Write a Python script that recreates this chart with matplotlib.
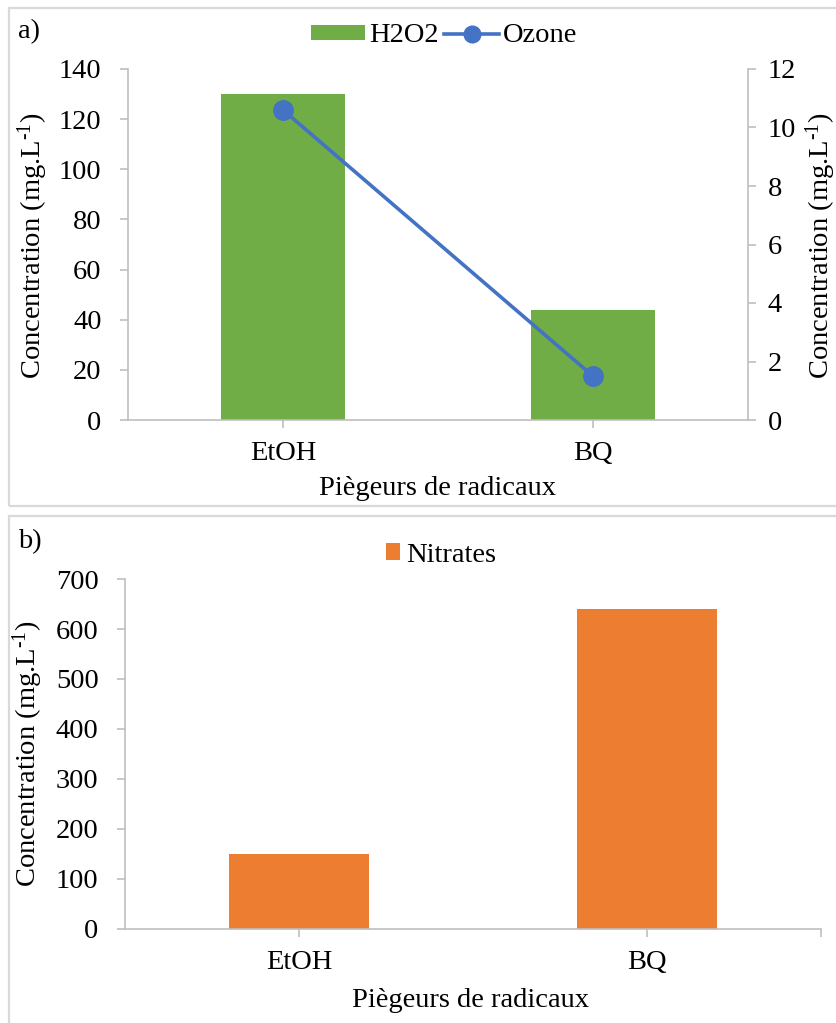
import matplotlib
matplotlib.use("Agg")
import matplotlib.pyplot as plt
from matplotlib.patches import Rectangle, Patch
from matplotlib.lines import Line2D

categories = ["EtOH", "BQ"]
h2o2 = [130, 44]
ozone = [10.6, 1.5]
nitrates = [150, 640]

left_ticks_a = [0, 20, 40, 60, 80, 100, 120, 140]
right_ticks_a = [0, 2, 4, 6, 8, 10, 12]
ticks_b = [0, 100, 200, 300, 400, 500, 600, 700]

ylabel = "Concentration (mg.L$^{\\text{-1}}$)"
xlabel = "Pi\u00e8geurs de radicaux"

GREEN = "#70AD47"
BLUE = "#4472C4"
ORANGE = "#ED7D31"
AXC = "#BFBFBF"
FS = 20.5

plt.rcParams["font.family"] = ["Liberation Serif", "DejaVu Serif"]
plt.rcParams["mathtext.fontset"] = "custom"
plt.rcParams["mathtext.rm"] = "Liberation Serif"
plt.rcParams["mathtext.it"] = "Liberation Serif"

W, H = 837, 1023
fig = plt.figure(figsize=(W / 100, H / 100), dpi=100)

def fx(px):
    return px / W

def fy(py):
    return 1 - py / H

# panel frames
fig.patches.append(Rectangle((fx(9), fy(506)), fx(840) - fx(9), fy(8) - fy(506),
                             transform=fig.transFigure, fill=False, ec="#D9D9D9", lw=1.6))
fig.patches.append(Rectangle((fx(9), fy(1030)), fx(840) - fx(9), fy(516) - fy(1030),
                             transform=fig.transFigure, fill=False, ec="#D9D9D9", lw=1.6))

def style(ax, right=False):
    ax.spines["top"].set_visible(False)
    ax.spines["right"].set_visible(right)
    for s in ["left", "bottom", "right"]:
        ax.spines[s].set_color(AXC)
        ax.spines[s].set_linewidth(1.2)
    ax.tick_params(axis="both", colors=AXC, labelcolor="black", labelsize=FS,
                   length=6, width=1.2)

x = list(range(len(categories)))

# ---- panel a
axa = fig.add_axes([fx(128), fy(420), fx(748) - fx(128), fy(69) - fy(420)])
axa.bar(x, h2o2, width=0.4, color=GREEN, zorder=2)
axa.set_xlim(-0.5, 1.5)
axa.set_ylim(0, 140)
axa.set_yticks(left_ticks_a)
axa.set_xticks(x)
axa.set_xticklabels(categories)
style(axa, right=False)
axa.tick_params(axis="y", pad=13)
axa.tick_params(axis="x", pad=9)
axa.set_ylabel(ylabel, fontsize=FS)
axa.yaxis.set_label_coords(-0.126, 0.496)
axa.set_xlabel(xlabel, fontsize=FS)
axa.xaxis.set_label_coords(0.50, -0.16)

axr = axa.twinx()
axr.plot(x, ozone, color=BLUE, lw=2.6, marker="o", ms=14, zorder=3)
axr.set_ylim(0, 12)
axr.set_yticks(right_ticks_a)
axr.spines["top"].set_visible(False)
axr.spines["left"].set_visible(False)
axr.spines["bottom"].set_visible(False)
axr.spines["right"].set_color(AXC)
axr.spines["right"].set_linewidth(1.2)
axr.tick_params(axis="y", colors=AXC, labelcolor="black", labelsize=FS,
                length=6, width=1.2, pad=8)
axr.set_ylabel(ylabel, fontsize=FS, rotation=90)
axr.yaxis.set_label_coords(1.090, 0.496)

handles_a = [Patch(facecolor=GREEN, edgecolor="none", label="H2O2"),
             Line2D([0], [0], color=BLUE, lw=2.6, marker="o", ms=12, label="Ozone")]
fig.legend(handles=handles_a, loc="center", bbox_to_anchor=(fx(444), fy(36)), ncol=2,
           frameon=False, fontsize=FS, handlelength=1.9, handleheight=0.45,
           handletextpad=0.15, columnspacing=0.2, borderaxespad=0)

fig.text(fx(18), fy(32), "a)", fontsize=FS, va="center", ha="left")

# ---- panel b
axb = fig.add_axes([fx(125), fy(929), fx(821) - fx(125), fy(579) - fy(929)])
axb.bar(x, nitrates, width=0.4, color=ORANGE, zorder=2)
axb.set_xlim(-0.5, 1.5)
axb.set_ylim(0, 700)
axb.set_yticks(ticks_b)
axb.set_xticks(x)
axb.set_xticklabels(categories)
axb.set_xticks([1.5], minor=True)
style(axb)
axb.tick_params(axis="x", which="minor", colors=AXC, length=6, width=1.2)
axb.tick_params(axis="y", pad=13)
axb.tick_params(axis="x", pad=9)
axb.set_ylabel(ylabel, fontsize=FS)
axb.yaxis.set_label_coords(-0.115, 0.5)
axb.set_xlabel(xlabel, fontsize=FS)
axb.xaxis.set_label_coords(0.496, -0.168)

handles_b = [Patch(facecolor=ORANGE, edgecolor="none", label="Nitrates")]
fig.legend(handles=handles_b, loc="center", bbox_to_anchor=(fx(441), fy(555)), ncol=1,
           frameon=False, fontsize=FS, handlelength=0.5, handleheight=0.5,
           handletextpad=0.2, borderaxespad=0)

fig.text(fx(18), fy(542), "b)", fontsize=FS, va="center", ha="left")

fig.savefig("out.png", dpi=100)
